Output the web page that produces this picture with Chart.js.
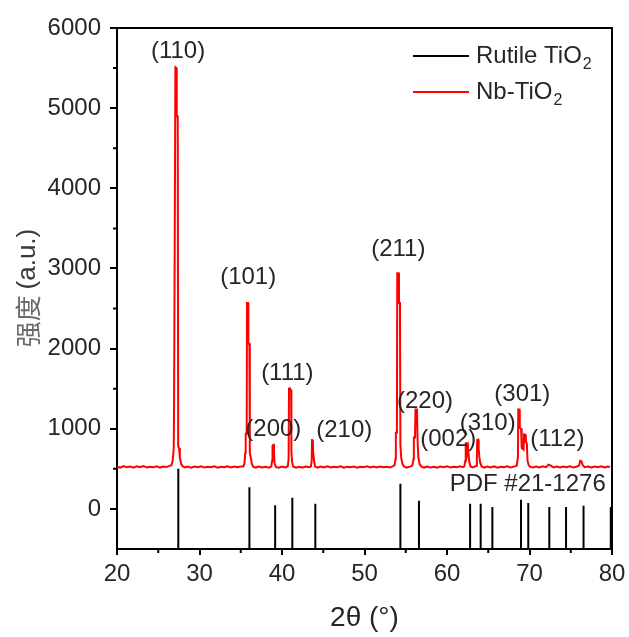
<!DOCTYPE html>
<html>
<head>
<meta charset="utf-8">
<script src="https://cdn.jsdelivr.net/npm/chart.js@4.4.0/dist/chart.umd.min.js"></script>
<style>
  body { margin: 0; background: #fff; }
  canvas { display: block; }
</style>
</head>
<body>
<canvas id="xrd" width="629" height="637"></canvas>
<script>
'use strict';
let nbTheta = [20.0, 20.4, 20.8, 21.2, 21.6, 22.0, 22.4, 22.8, 23.2, 23.6, 24.0, 24.4, 24.8, 25.2, 25.6, 26.0, 26.3,
  26.6, 26.75, 26.88, 26.92, 27.02, 27.08, 27.2, 27.24, 27.36, 27.42, 27.52, 27.62, 27.78, 27.95,
  28.2, 28.6, 29.0, 29.4, 29.8, 30.2, 30.6, 31.0, 31.4, 31.8, 32.2, 32.6, 33.0, 33.4, 33.8, 34.2, 34.6, 35.0,
  35.3, 35.45, 35.55, 35.6, 35.72, 35.76, 35.88, 35.92, 36.05, 36.1, 36.2, 36.35, 36.5,
  36.8, 37.2, 37.6, 38.0, 38.4,
  38.7, 38.8, 38.85, 38.98, 39.03, 39.1, 39.25,
  39.6, 40.0, 40.4,
  40.7, 40.8, 40.85, 40.95, 41.0, 41.1, 41.14, 41.22, 41.35,
  41.7, 42.1, 42.5, 42.9, 43.3,
  43.5, 43.6, 43.64, 43.74, 43.78, 43.88, 44.0,
  44.3, 44.7, 45.1, 45.5, 45.9, 46.3, 46.7, 47.1, 47.5, 47.9, 48.3, 48.7, 49.1, 49.5, 49.9, 50.3, 50.7, 51.1, 51.5, 51.9, 52.3, 52.7, 53.1, 53.4,
  53.65, 53.75, 53.8, 53.93, 53.97, 54.14, 54.18, 54.3, 54.35, 54.45, 54.6, 54.8,
  55.1, 55.5,
  55.8, 55.93, 55.98, 56.12, 56.18, 56.36, 56.42, 56.52, 56.68, 56.9,
  57.2, 57.6, 58.0, 58.4, 58.8, 59.2, 59.6, 60.0, 60.4, 60.8, 61.2, 61.6, 61.9,
  62.1, 62.22, 62.27, 62.4, 62.46, 62.52, 62.56, 62.68, 62.85,
  63.1, 63.4,
  63.55, 63.62, 63.66, 63.78, 63.84, 63.92, 64.02, 64.2,
  64.5, 64.9, 65.3, 65.7, 66.1, 66.5, 66.9, 67.3, 67.7, 68.1,
  68.45, 68.6, 68.64, 68.78, 68.82, 68.98, 69.06, 69.28, 69.34, 69.5, 69.56, 69.68, 69.76, 69.9, 70.1,
  70.4, 70.8, 71.2, 71.6, 72.0, 72.3, 72.6, 72.9, 73.3, 73.7, 74.1, 74.5, 74.9, 75.3, 75.7,
  76.0, 76.15, 76.3, 76.45, 76.7, 77.1, 77.5, 77.9, 78.3, 78.7, 79.1, 79.5, 79.76];
let nbCounts = [528, 516, 534, 519, 530, 514, 531, 521, 536, 517, 527, 519, 533, 516, 529, 522, 534,
  545, 600, 760, 1360, 1360, 5510, 5500, 4900, 4900, 780, 760, 640, 560, 532,
  518, 530, 515, 528, 520, 533, 516, 527, 519, 531, 515, 526, 520, 532, 517, 528, 520, 530,
  530, 565, 700, 940, 950, 2570, 2570, 2060, 2060, 700, 650, 560, 528,
  516, 530, 518, 527, 515,
  528, 600, 790, 800, 720, 570, 525,
  514, 528, 518,
  532, 620, 1500, 1516, 1490, 1480, 720, 590, 530,
  515, 527, 517, 530, 520,
  528, 600, 860, 864, 700, 610, 532,
  515, 528, 518, 531, 516, 527, 520, 532, 515, 526, 519, 530, 514, 527, 520, 531, 517, 528, 516, 530, 519, 527, 516, 530,
  545, 620, 950, 950, 2940, 2940, 2570, 2570, 800, 640, 560, 530,
  516, 528,
  540, 620, 890, 890, 1240, 1240, 900, 650, 560, 528,
  516, 530, 518, 527, 515, 529, 520, 532, 516, 527, 519, 531, 520,
  532, 600, 820, 820, 700, 700, 760, 600, 530,
  518, 530,
  540, 620, 860, 864, 750, 650, 580, 530,
  516, 528, 518, 531, 515, 527, 520, 532, 517, 528,
  540, 650, 1240, 1240, 1010, 1000, 760, 740, 930, 926, 830, 820, 600, 545, 525,
  516, 529, 518, 531, 520, 552, 540, 518, 530, 516, 528, 519, 531, 517, 527,
  540, 600, 595, 545, 520, 530, 516, 528, 519, 531, 517, 528, 522];

// reference sticks, rutile TiO2 PDF #21-1276 (drawn from the axis floor)
let stickTheta = [27.43, 36.05, 39.17, 41.25, 44.04, 54.35, 56.6, 62.8, 64.08, 65.5, 68.97, 69.85, 72.4, 74.43, 76.55, 79.85];
let stickTop = [500, 270, 45, 140, 66, 315, 103, 66, 66, 25, 116, 75, 25, 25, 41, 25];
let stickFloor = -500;

// peak labels
let peakLabels = ['(110)', '(101)', '(200)', '(111)', '(210)', '(211)', '(220)', '(002)', '(310)', '(301)', '(112)', 'PDF #21-1276'];
let labelTheta = [27.4, 35.9, 38.95, 40.65, 47.55, 54.1, 57.33, 60.15, 64.93, 69.13, 73.37, 69.78];
let labelCounts = [5706, 2893, 989, 1687, 976, 3233, 1342, 864, 1072, 1425, 864, 312];

let xTicks = [20, 30, 40, 50, 60, 70, 80];
let yTicks = [0, 1000, 2000, 3000, 4000, 5000, 6000];

let FONT = "'Liberation Sans', Arial, sans-serif";

// build point lists
let nbPoints = [];
for (let i = 0; i < nbTheta.length; i++) {
  nbPoints.push({ x: nbTheta[i], y: nbCounts[i] });
}
let stickPoints = [];
for (let i = 0; i < stickTheta.length; i++) {
  stickPoints.push({ x: stickTheta[i], y: stickFloor });
  stickPoints.push({ x: stickTheta[i], y: stickTop[i] });
  stickPoints.push({ x: stickTheta[i], y: null });
}

// frame, minor ticks, labels, legend, axis titles
let decorPlugin = {
  id: 'decor',
  afterDraw(chart) {
    let ctx = chart.ctx;
    let a = chart.chartArea;
    let xs = chart.scales.x;
    let ys = chart.scales.y;
    ctx.save();
    ctx.strokeStyle = '#000';
    ctx.lineWidth = 2;
    ctx.beginPath();
    ctx.moveTo(a.left, a.top);
    ctx.lineTo(a.right, a.top);
    ctx.lineTo(a.right, a.bottom);
    ctx.stroke();

    // minor ticks
    ctx.beginPath();
    for (let v = 25; v < 80; v += 10) {
      let px = xs.getPixelForValue(v);
      ctx.moveTo(px, a.bottom);
      ctx.lineTo(px, a.bottom + 4);
    }
    for (let v = 500; v < 6000; v += 1000) {
      let py = ys.getPixelForValue(v);
      ctx.moveTo(a.left, py);
      ctx.lineTo(a.left - 4, py);
    }
    ctx.stroke();

    // peak labels
    ctx.fillStyle = '#262626';
    ctx.font = '24px ' + FONT;
    ctx.textAlign = 'center';
    ctx.textBaseline = 'middle';
    for (let i = 0; i < peakLabels.length; i++) {
      ctx.fillText(peakLabels[i], xs.getPixelForValue(labelTheta[i]), ys.getPixelForValue(labelCounts[i]));
    }

    // legend
    let legend = [['Rutile TiO', '#000', 56], ['Nb-TiO', '#ff0000', 92]];
    ctx.textAlign = 'left';
    legend.forEach(function (item) {
      ctx.strokeStyle = item[1];
      ctx.lineWidth = 2;
      ctx.beginPath();
      ctx.moveTo(413, item[2]);
      ctx.lineTo(469, item[2]);
      ctx.stroke();
      ctx.fillStyle = '#262626';
      ctx.font = '24px ' + FONT;
      ctx.fillText(item[0], 476, item[2]);
      let w = ctx.measureText(item[0]).width;
      ctx.font = '16px ' + FONT;
      ctx.fillText('2', 476 + w + 1, item[2] + 9);
    });

    // x title
    ctx.fillStyle = '#262626';
    ctx.font = '28px ' + FONT;
    ctx.textAlign = 'center';
    ctx.fillText('2\u03b8 (\u00b0)', (a.left + a.right) / 2, 618);

    // y title
    ctx.translate(28, 288);
    ctx.rotate(-Math.PI / 2);
    ctx.textAlign = 'left';
    ctx.font = "26px 'Noto Sans CJK SC', sans-serif";
    let cn = '\u5f3a\u5ea6 ';
    let cnW = ctx.measureText(cn).width;
    ctx.font = '26px ' + FONT;
    let enW = ctx.measureText('(a.u.)').width;
    let start = -(cnW + enW) / 2;
    ctx.fillStyle = '#6a6a6a';
    ctx.font = "26px 'Noto Sans CJK SC', sans-serif";
    ctx.fillText(cn, start, 0);
    ctx.fillStyle = '#3a3a3a';
    ctx.font = '26px ' + FONT;
    ctx.fillText('(a.u.)', start + cnW, 0);
    ctx.restore();
  }
};

let ctx = document.getElementById('xrd').getContext('2d');
let chart = new Chart(ctx, {
  type: 'scatter',
  data: {
    datasets: [{
      label: 'Nb-TiO2',
      data: nbPoints,
      showLine: true,
      borderColor: '#ff0000',
      borderWidth: 2,
      pointRadius: 0,
      tension: 0
    }, {
      label: 'Rutile TiO2',
      data: stickPoints,
      showLine: true,
      spanGaps: false,
      borderColor: '#000',
      borderWidth: 2,
      pointRadius: 0
    }]
  },
  options: {
    responsive: false,
    animation: false,
    devicePixelRatio: 1,
    layout: { padding: { top: 28, right: 17, left: 0, bottom: 0 } },
    plugins: {
      legend: { display: false },
      tooltip: { enabled: false }
    },
    scales: {
      x: {
        type: 'linear',
        min: 20,
        max: 80,
        afterBuildTicks: function (scale) {
          scale.ticks = xTicks.map(function (v) { return { value: v }; });
        },
        afterFit: function (scale) {
          scale.height = 88;
          scale.paddingLeft = 0;
          scale.paddingRight = 0;
        },
        border: { color: '#000', width: 2 },
        grid: { drawOnChartArea: false, color: '#000', lineWidth: 2, tickLength: 6 },
        ticks: {
          color: '#262626', font: { family: FONT, size: 24 }, padding: 5, maxRotation: 0,
          callback: function (v) { return String(v); }
        }
      },
      y: {
        type: 'linear',
        min: -500,
        max: 6000,
        afterBuildTicks: function (scale) {
          scale.ticks = yTicks.map(function (v) { return { value: v }; });
        },
        afterFit: function (scale) {
          scale.width = 117;
          scale.paddingTop = 0;
          scale.paddingBottom = 0;
        },
        border: { color: '#000', width: 2 },
        grid: { drawOnChartArea: false, color: '#000', lineWidth: 2, tickLength: 7 },
        ticks: {
          color: '#262626', font: { family: FONT, size: 24 }, padding: 9,
          callback: function (v) { return String(v); }
        }
      }
    }
  },
  plugins: [decorPlugin]
});
</script>
</body>
</html>
